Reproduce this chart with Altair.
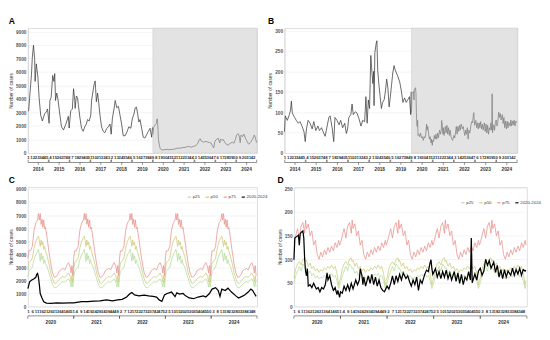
import altair as alt
import pandas as pd

FONT = "Liberation Sans"

# ---------------- data ----------------
years_ab = [2014, 2015, 2016, 2017, 2018, 2019, 2020, 2021, 2022, 2023, 2024]
years_cd = [2020, 2021, 2022, 2023, 2024]
weeks_per_year = 52
ticks_ab = list(range(0, 572, 11))
ticks_cd = list(range(0, 260, 5))
y_ticks_a = [0, 1000, 2000, 3000, 4000, 5000, 6000, 7000, 8000, 9000]
y_ticks_b = [0, 50, 100, 150, 200, 250, 300]
y_ticks_d = [0, 50, 100, 150, 200, 250]

# Panel A, 2014-2019 (week index from week 1 of 2014)
a_pre_weeks = [0, 2, 5, 9, 11, 14, 17, 18, 21, 25, 28, 32, 36, 42, 46, 49, 53, 55, 58, 62,
               65, 67, 69, 72, 75, 80, 84, 89, 95, 101, 103, 107, 111, 114, 117, 118, 121, 124, 126, 130,
               134, 138, 142, 146, 149, 153, 157, 159, 163, 166, 168, 171, 174, 177, 180, 184, 188, 192, 197, 201,
               205, 208, 211, 215, 218, 222, 226, 230, 234, 238, 243, 248, 252, 257, 261, 264, 268, 271, 274, 277,
               280, 284, 288, 292, 297, 301, 305, 309, 311]
a_pre_vals = [3100, 3130, 4320, 5850, 7040, 7980, 6930, 5300, 6600, 5630, 4110, 2800, 2370, 2910, 3040, 3260, 2200, 3890, 4110, 5740,
              5300, 5880, 3890, 4440, 4000, 2800, 1940, 1710, 2150, 2720, 1850, 3130, 3260, 4760, 3890, 3300, 4220, 4110, 3570, 2590,
              1830, 1610, 1940, 2150, 2480, 2370, 2800, 3890, 4650, 5190, 5340, 3800, 4440, 3680, 2800, 1940, 1610, 1500, 1830, 1940,
              2150, 1390, 2590, 3260, 3890, 3350, 3460, 2800, 2150, 1280, 1280, 1610, 1940, 1830, 2590, 2800, 3350, 3400, 2910, 2300,
              2480, 1830, 1170, 1110, 1390, 1610, 1830, 1170, 1900]

# Panel A/C, 2020-2024 (week index from week 1 of 2020)
c_weeks = [0, 2, 4, 7, 9, 10, 11, 12, 13, 14, 16, 18, 21, 26, 33, 40, 47, 52, 61, 68,
           75, 82, 89, 96, 102, 107, 112, 116, 118, 121, 126, 132, 137, 142, 146, 149, 152, 155, 158, 163,
           167, 169, 172, 176, 179, 183, 188, 193, 199, 202, 206, 209, 213, 216, 218, 220, 224, 227, 231, 236,
           239, 243, 246, 250, 253, 255, 257, 259]
c_vals = [1370, 1890, 2000, 2120, 2230, 2460, 2530, 2230, 1670, 990, 650, 360, 250, 230, 270, 250, 270, 270, 360, 360,
          400, 430, 500, 430, 500, 540, 720, 990, 1060, 880, 810, 860, 810, 770, 720, 500, 380, 880, 990, 1100,
          750, 1040, 950, 990, 810, 650, 590, 720, 810, 720, 990, 1330, 1440, 1220, 770, 1330, 1220, 1400, 1100, 810,
          650, 770, 880, 1100, 1330, 1220, 990, 770]

# Panel B, 2014-2019
b_pre_weeks = [0, 2, 7, 12, 15, 17, 19, 21, 25, 29, 34, 38, 43, 48, 51, 54, 58, 63, 68, 72,
               77, 82, 86, 91, 95, 100, 104, 109, 112, 117, 121, 124, 129, 134, 138, 143, 148, 152, 155, 158,
               163, 166, 169, 174, 178, 183, 188, 192, 197, 200, 203, 206, 209, 212, 215, 217, 219, 220, 222, 225,
               227, 229, 232, 235, 238, 241, 245, 248, 251, 254, 257, 260, 263, 266, 269, 272, 275, 278, 283, 287,
               291, 295, 299, 303, 307, 310, 311]
b_pre_vals = [52, 91, 80, 94, 105, 127, 100, 94, 87, 80, 73, 77, 66, 52, 28, 59, 80, 73, 59, 77,
              55, 66, 55, 62, 52, 41, 62, 87, 91, 62, 28, 87, 80, 69, 80, 62, 73, 48, 59, 87,
              94, 120, 94, 101, 98, 84, 66, 80, 77, 138, 73, 130, 109, 239, 196, 170, 200, 116, 246, 267,
              275, 203, 167, 138, 109, 124, 131, 152, 181, 159, 113, 138, 167, 196, 214, 203, 196, 189, 174, 152,
              124, 135, 124, 131, 138, 94, 150]

# Panel B/D, 2020-2024
d_weeks = [0, 1, 3, 5, 6, 7, 8, 10, 11, 12, 13, 14, 15, 16, 18, 20, 22, 25, 27, 29,
           31, 33, 35, 37, 38, 40, 42, 44, 46, 48, 49, 51, 52, 54, 56, 58, 60, 62, 64, 66,
           69, 71, 73, 74, 76, 77, 78, 80, 83, 85, 87, 89, 91, 93, 95, 97, 99, 101, 104, 106,
           108, 110, 112, 114, 116, 118, 120, 122, 125, 127, 129, 131, 133, 135, 137, 139, 141, 143, 146, 148,
           150, 152, 153, 154, 155, 158, 160, 162, 164, 166, 168, 170, 172, 174, 176, 179, 181, 183, 185, 187,
           189, 191, 193, 195, 197, 198, 199, 202, 204, 206, 208, 210, 212, 214, 216, 218, 220, 223, 225, 227,
           229, 231, 233, 235, 237, 239, 242, 244, 246, 248, 250, 252, 254, 256, 258, 259]
d_vals = [99, 145, 148, 151, 130, 154, 157, 160, 145, 99, 74, 65, 80, 43, 46, 40, 49, 37, 40, 31,
          40, 37, 46, 71, 56, 65, 46, 34, 40, 25, 34, 19, 31, 28, 43, 34, 46, 34, 49, 37,
          56, 46, 56, 80, 65, 46, 62, 43, 65, 49, 68, 46, 62, 43, 56, 40, 34, 31, 43, 37,
          49, 65, 46, 65, 53, 68, 56, 71, 59, 65, 53, 43, 56, 46, 62, 34, 56, 49, 68, 77,
          74, 93, 99, 80, 68, 80, 62, 74, 59, 74, 62, 77, 59, 71, 56, 74, 53, 71, 49, 68,
          46, 62, 56, 74, 56, 145, 50, 69, 56, 75, 81, 66, 75, 100, 87, 97, 81, 94, 72, 87,
          62, 78, 59, 78, 62, 75, 66, 81, 66, 78, 69, 81, 66, 78, 75, 77]

# Percentile curves (one seasonal year, repeated each year in the chart)
c_tmpl_weeks = [0, 1, 3, 5, 7, 9, 11, 12, 13, 14, 15, 16, 17, 18, 19, 20, 22, 24, 26, 28,
                30, 32, 34, 36, 38, 40, 42, 44, 46, 48, 49, 50, 51]
c_p75 = [3700, 4260, 4260, 4600, 5840, 6400, 6630, 7120, 6630, 7120, 6290, 6700, 6070, 6630, 5950, 6070, 5160, 4150, 3250, 2570,
         2230, 2270, 2460, 2750, 2840, 2910, 2800, 3130, 3360, 3020, 2570, 3130, 2350]
c_p50 = [2800, 3360, 3460, 3700, 4490, 5000, 5280, 5390, 5050, 4600, 5090, 4710, 4940, 4380, 4600, 4260, 3810, 3250, 2570, 2120,
         1780, 1780, 1940, 2120, 2230, 2300, 2230, 2390, 2570, 2300, 1890, 2350, 1850]
c_p25 = [2230, 2680, 2840, 3020, 3590, 3970, 4200, 4380, 3970, 3460, 4100, 3590, 3880, 3290, 3590, 3290, 3020, 2570, 2120, 1670,
         1440, 1440, 1560, 1710, 1850, 1890, 1850, 2000, 2120, 1850, 1490, 1940, 1490]

d_tmpl_weeks = [0, 2, 4, 6, 8, 10, 12, 13, 14, 16, 18, 20, 22, 24, 26, 28, 30, 32, 34, 36,
                38, 40, 42, 44, 46, 48, 50, 51]
d_p75 = [135, 150, 165, 145, 170, 178, 155, 183, 165, 175, 150, 160, 130, 140, 110, 100, 115, 105, 120, 110,
         125, 115, 128, 118, 135, 125, 140, 130]
d_p50 = [60, 80, 90, 95, 88, 100, 103, 95, 98, 85, 92, 80, 85, 75, 80, 72, 78, 75, 82, 78,
         85, 80, 88, 80, 85, 70, 45, 55]
d_p25 = [50, 65, 75, 85, 75, 90, 85, 80, 82, 70, 75, 65, 70, 60, 65, 58, 62, 60, 66, 62,
         68, 65, 70, 62, 66, 55, 38, 45]

legend_labels = ["p25", "p50", "p75", "2020-2024"]
legend_colors = ["#b5dd9e", "#cbcb7c", "#e8918d", "#000000"]

# ---------------- helpers ----------------
N_AB = len(years_ab) * weeks_per_year
N_CD = len(years_cd) * weeks_per_year
OFFSET_2020 = (2020 - years_ab[0]) * weeks_per_year


def x_axis(ticks):
    return alt.Axis(values=ticks, labelExpr="(datum.value % 52) + 1",
                    labelFontSize=4.6, labelFontWeight="bold", labelColor="#333333",
                    labelOverlap=False, labelFlush=False, labelBound=False,
                    labelPadding=2, labelAngle=0, domain=False, ticks=False,
                    grid=False, title=None, labelFont=FONT)


def y_axis(yticks, domain_line):
    return alt.Axis(values=yticks, format="d", labelFontSize=5, labelFontWeight="bold",
                    labelColor="#555555", labelPadding=2, ticks=False,
                    domain=domain_line, domainColor="#d0d0d0", domainWidth=0.6,
                    grid=True, gridColor="#e8e8e8", gridWidth=0.5,
                    title="Number of cases", titleFontSize=5, titleFontWeight="normal",
                    titleColor="#404040", titlePadding=2, labelFont=FONT, titleFont=FONT)


class Enc:
    def __init__(self, n, ticks, ymax, yticks, domain_line):
        self.n, self.ticks, self.ymax, self.yticks, self.dl = n, ticks, ymax, yticks, domain_line

    def x(self, field):
        return alt.X(field, type="quantitative", title=None,
                     scale=alt.Scale(domain=[0, self.n], nice=False, zero=False),
                     axis=x_axis(self.ticks))

    def y(self, field):
        return alt.Y(field, type="quantitative", title="Number of cases",
                     scale=alt.Scale(domain=[0, self.ymax], nice=False),
                     axis=y_axis(self.yticks, self.dl))


def years_frame(years):
    starts = [(y - years[0]) * weeks_per_year for y in years]
    return pd.DataFrame({
        "label": [str(y) for y in years],
        "start": starts,
        "end": [s + weeks_per_year for s in starts],
        "mid": [s + weeks_per_year / 2 for s in starts],
        "s_in": [s + 0.8 for s in starts],
        "e_in": [s + weeks_per_year - 0.8 for s in starts],
    })


RULE = dict(color="#404040", strokeWidth=0.6)
TXT = dict(fontSize=5, fontWeight="bold", color="#333333", font=FONT, baseline="middle")


def brackets(years, enc, h):
    base = alt.Chart(years_frame(years))
    horiz = base.mark_rule(**RULE).encode(x=enc.x("s_in"), x2="e_in", y=alt.value(h + 10))
    left = base.mark_rule(**RULE).encode(x=enc.x("s_in"), y=alt.value(h + 7), y2=alt.value(h + 10))
    right = base.mark_rule(**RULE).encode(x=enc.x("e_in"), y=alt.value(h + 7), y2=alt.value(h + 10))
    center = base.mark_rule(**RULE).encode(x=enc.x("mid"), y=alt.value(h + 10), y2=alt.value(h + 12.5))
    txt = base.mark_text(**TXT).encode(x=enc.x("mid"), y=alt.value(h + 17), text="label:N")
    return [horiz, left, right, center, txt]


def year_line(years, enc, h):
    base = alt.Chart(years_frame(years))
    horiz = base.mark_rule(**RULE).encode(x=enc.x("start"), x2="end", y=alt.value(h + 10))
    tk1 = base.mark_rule(**RULE).encode(x=enc.x("start"), y=alt.value(h + 10), y2=alt.value(h + 13))
    tk2 = base.mark_rule(**RULE).encode(x=enc.x("end"), y=alt.value(h + 10), y2=alt.value(h + 13))
    txt = base.mark_text(**TXT).encode(x=enc.x("mid"), y=alt.value(h + 17), text="label:N")
    return [horiz, tk1, tk2, txt]


def title(t):
    return alt.TitleParams(t, anchor="start", frame="bounds", fontSize=9, fontWeight="bold",
                           font=FONT, offset=2, color="#000000")


W_L, W_R = 242, 246
H_TOP, H_BOT = 132, 126


def overview_panel(letter, pre_w, pre_v, post_w, post_v, ymax, yticks, w):
    h = H_TOP
    enc = Enc(N_AB, ticks_ab, ymax, yticks, True)
    pre = pd.DataFrame({"week": pre_w, "cases": pre_v})
    post = pd.DataFrame({"week": [OFFSET_2020 + x for x in post_w], "cases": post_v})
    shade_df = pd.DataFrame({"start": [OFFSET_2020], "end": [N_AB]})
    shade = alt.Chart(shade_df).mark_rect(fill="#e3e3e3", stroke="#c8c8c8", strokeWidth=0.5).encode(
        x=enc.x("start"), x2="end", y=alt.value(0), y2=alt.value(h))
    l_pre = alt.Chart(pre).mark_line(color="#3c3c3c", strokeWidth=0.8).encode(
        x=enc.x("week"), y=enc.y("cases"))
    l_post = alt.Chart(post).mark_line(color="#808080", strokeWidth=0.8).encode(
        x=enc.x("week"), y=enc.y("cases"))
    return alt.layer(shade, l_pre, l_post, *brackets(years_ab, enc, h)).properties(
        width=w, height=h, title=title(letter))


def season_panel(letter, tmpl_w, p25, p50, p75, obs_w, obs_v, ymax, yticks, w, lx, ly):
    h = H_BOT
    enc = Enc(N_CD, ticks_cd, ymax, yticks, False)
    rows = []
    for k in range(len(years_cd)):
        for name, vals in (("p25", p25), ("p50", p50), ("p75", p75)):
            for wk, v in zip(tmpl_w, vals):
                rows.append({"week": k * weeks_per_year + wk, "cases": v, "series": name})
    pdf = pd.DataFrame(rows)
    obs = pd.DataFrame({"week": obs_w, "cases": obs_v, "series": "2020-2024"})
    cscale = alt.Scale(domain=legend_labels, range=legend_colors)
    leg = alt.Legend(orient="none", legendX=lx, legendY=ly, direction="horizontal", title=None,
                     symbolType="stroke", symbolSize=12, symbolStrokeWidth=1.2, labelFontSize=4.6,
                     labelColor="#404040", labelFont=FONT, columnPadding=3, labelOffset=1, padding=0)
    p_lines = alt.Chart(pdf).mark_line(strokeWidth=0.8).encode(
        x=enc.x("week"), y=enc.y("cases"),
        color=alt.Color("series:N", scale=cscale, legend=leg), detail="series:N")
    o_line = alt.Chart(obs).mark_line(strokeWidth=1.3).encode(
        x=enc.x("week"), y=enc.y("cases"),
        color=alt.Color("series:N", scale=cscale, legend=leg))
    return alt.layer(p_lines, o_line, *year_line(years_cd, enc, h)).properties(
        width=w, height=h, title=title(letter))


panel_a = overview_panel("A", a_pre_weeks, a_pre_vals, c_weeks, c_vals, 9250, y_ticks_a, W_L)
panel_b = overview_panel("B", b_pre_weeks, b_pre_vals, d_weeks, d_vals, 306, y_ticks_b, W_R)
panel_c = season_panel("C", c_tmpl_weeks, c_p25, c_p50, c_p75, c_weeks, c_vals, 9150, y_ticks_a, W_L, 168, 8)
panel_d = season_panel("D", d_tmpl_weeks, d_p25, d_p50, d_p75, d_weeks, d_vals, 253, y_ticks_d, W_R, 176, 14)

top = alt.hconcat(panel_a, panel_b, spacing=9).resolve_scale(x="independent", y="independent", color="independent")
bottom = alt.hconcat(panel_c, panel_d, spacing=9).resolve_scale(x="independent", y="independent", color="independent")

chart = alt.vconcat(top, bottom, spacing=2, padding=0).resolve_scale(
    x="independent", y="independent", color="independent"
).configure_view(stroke=None).configure(font=FONT, background="#ffffff")

chart.save("out.html", embed_options={"renderer": "svg", "actions": False})
